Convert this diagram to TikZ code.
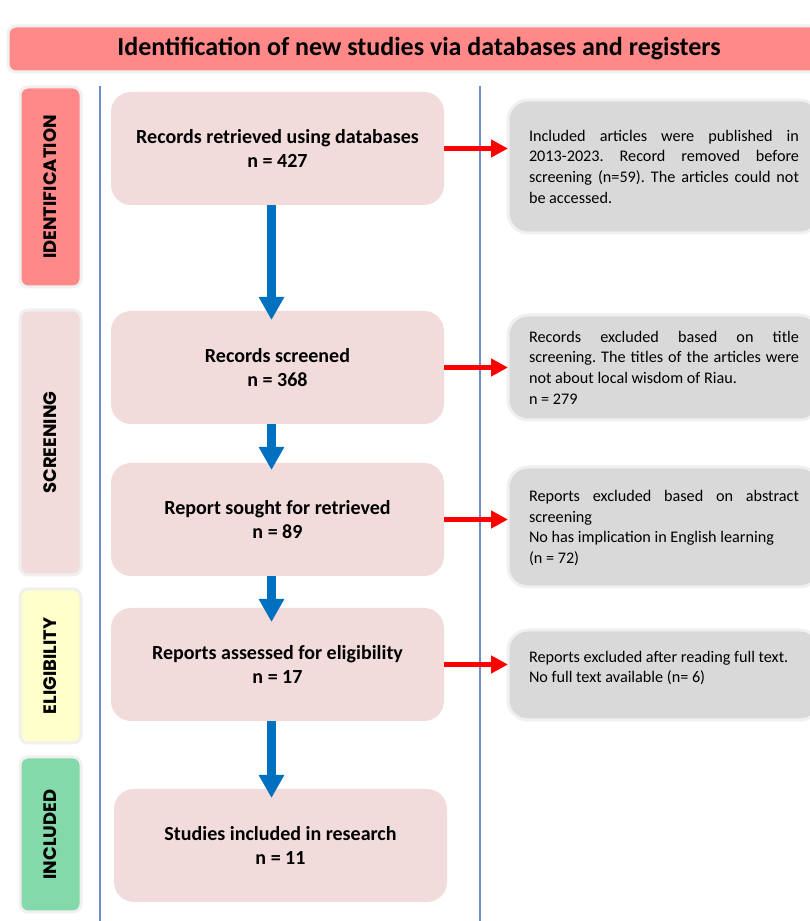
\documentclass[tikz,border=0pt]{standalone}
\usepackage{fontspec}
\setmainfont{Carlito}
\newfontfamily\labfont{Poppins}
\usetikzlibrary{positioning,arrows.meta}

\definecolor{titlered}{HTML}{FF8989}
\definecolor{boxpink}{HTML}{F2DCDB}
\definecolor{boxgray}{HTML}{D9D9D9}
\definecolor{rimgray}{HTML}{F0F0F0}
\definecolor{eligyellow}{HTML}{FFFFCC}
\definecolor{inclgreen}{HTML}{84D9AA}
\definecolor{flowblue}{HTML}{0070C0}
\definecolor{rulerblue}{HTML}{6C8FCB}

% justified text block for the exclusion notes
\newcommand\notepar[2][\height]{\parbox[c][#1][t]{270pt}{\hyphenpenalty=10000
  \frenchspacing #2}}

\begin{document}
\begin{tikzpicture}[x=1pt, y=1pt,
    every node/.style = {inner sep=0pt, outer sep=0pt},
    phase/.style = {draw=rimgray, line width=3pt, rounded corners=8pt,
      rotate=90, minimum height=61pt,
      font=\labfont\bfseries\fontsize{18}{22}\selectfont},
    stage/.style = {fill=boxpink, rounded corners=20pt, minimum width=333pt,
      minimum height=113pt, align=center,
      font=\bfseries\fontsize{20}{24}\selectfont},
    note/.style = {fill=boxgray, draw=rimgray, line width=3pt,
      rounded corners=20pt, inner xsep=21pt,
      font=\fontsize{16.2}{20.6}\selectfont},
    flow/.style = {draw=flowblue, line width=9pt,
      -{Triangle[width=24pt,length=23pt]}},
    drop/.style = {draw=red, line width=5pt,
      -{Triangle[width=17pt,length=17pt]}}]
  \useasboundingbox (0,0) rectangle (809,921);

  % title bar
  \node (title) [fill=titlered, draw=rimgray, line width=3pt,
    rounded corners=8pt, minimum width=822pt, minimum height=46pt,
    font=\bfseries\fontsize{26}{30}\selectfont] at (419,872)
    {Identification of new studies via databases and registers};

  % phase labels on the left
  \node (ident)  [phase, fill=titlered,   minimum width=200pt] at (50.5,734)   {IDENTIFICATION};
  \node (screen) [phase, fill=boxpink,    minimum width=265pt] at (50.5,478.5) {SCREENING};
  \node (elig)   [phase, fill=eligyellow, minimum width=154pt] at (50.5,255)   {ELIGIBILITY};
  \node (incl)   [phase, fill=inclgreen,  minimum width=155pt] at (50.5,86.5)  {INCLUDED};

  % column rules
  \coordinate (ruleAtop) at (100,835);
  \coordinate (ruleAbot) at (100,0);
  \coordinate (ruleBtop) at (480,835);
  \coordinate (ruleBbot) at (480,0);
  \draw [rulerblue, line width=1.2pt] (ruleAtop) -- (ruleAbot);
  \draw [rulerblue, line width=1.2pt] (ruleBtop) -- (ruleBbot);

  % main flow
  \node (rec) [stage] at (277.5,772.5) {Records retrieved using databases\\ n = 427};
  \node (scr) [stage, below=106pt of rec] {Records screened\\ n = 368};
  \node (rep) [stage, below=39pt of scr]  {Report sought for retrieved\\ n = 89};
  \node (ass) [stage, below=32pt of rep]  {Reports assessed for eligibility\\ n = 17};
  \node (inc) [stage, below=68pt of ass, xshift=3pt] {Studies included in research\\ n = 11};

  % exclusion notes
  \node (exA) [note, right=64pt of rec, yshift=-18pt, minimum height=133pt]
    {\notepar{Included articles were published in\linebreak 2013-2023. Record removed before\linebreak
     screening (n=59). The articles could not\linebreak be accessed.}};
  \node (exB) [note, right=64pt of scr, minimum height=105pt]
    {\notepar{Records excluded based on title\linebreak screening. The titles of the articles were\linebreak
     not about local wisdom of Riau.\\ n = 279}};
  \node (exC) [note, right=64pt of rep, yshift=-7.5pt, minimum height=120pt]
    {\notepar{Reports excluded based on abstract\linebreak screening\\
     No has implication in English learning\\ (n = 72)}};
  \node (exD) [note, right=64pt of ass, yshift=-10.5pt, inner ysep=21pt]
    {\notepar[48pt]{Reports excluded after reading full text.\\ No full text available (n= 6)}};

  % arrows
  \draw [flow, shorten >=-9pt]  ([xshift=-6pt]rec.south) -- ([xshift=-6pt]scr.north);
  \draw [flow, shorten >=-7pt]  ([xshift=-6pt]scr.south) -- ([xshift=-6pt]rep.north);
  \draw [flow, shorten >=-14pt] ([xshift=-6pt]rep.south) -- ([xshift=-6pt]ass.north);
  \draw [flow, shorten >=-9pt]  ([xshift=-6pt]ass.south) -- ([xshift=-6pt]ass.south |- inc.north);

  \draw [drop] (rec.east) -- (rec.east -| exA.west);
  \draw [drop] (scr.east) -- (scr.east -| exB.west);
  \draw [drop] (rep.east) -- (rep.east -| exC.west);
  \draw [drop] (ass.east) -- (ass.east -| exD.west);
\end{tikzpicture}
\end{document}
